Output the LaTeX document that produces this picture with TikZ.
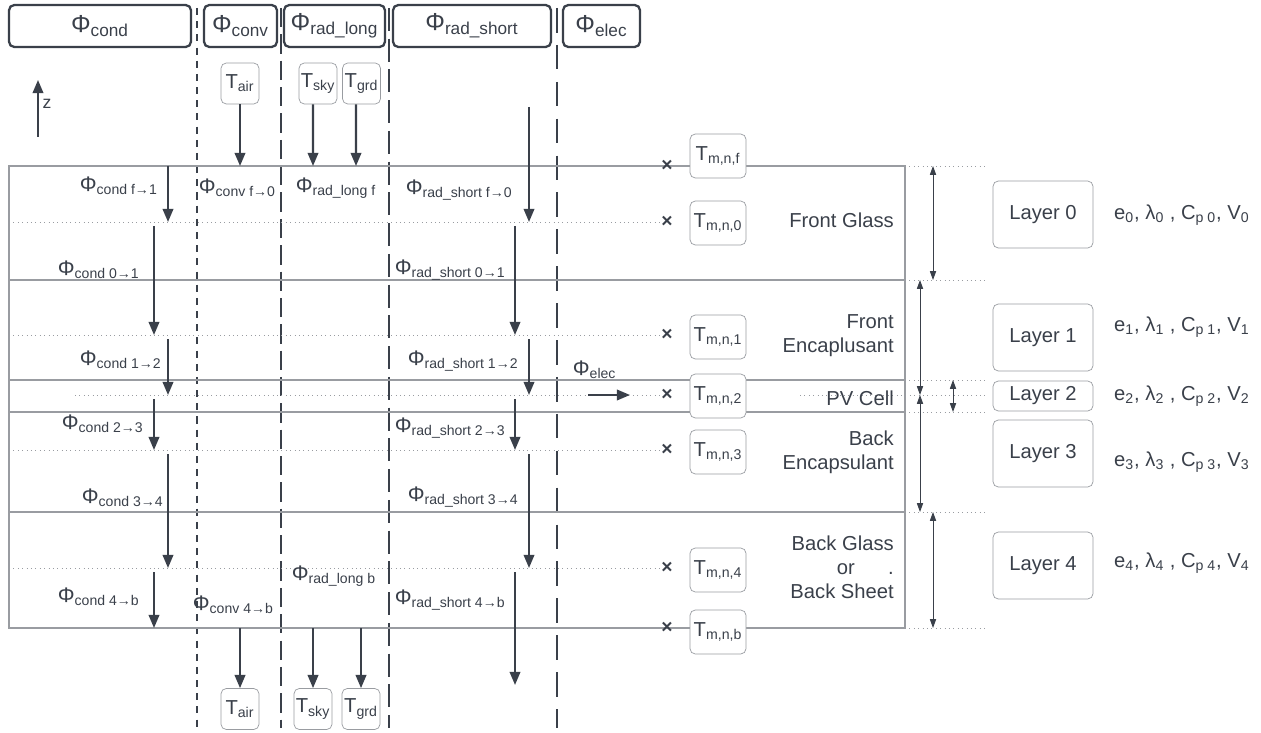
\documentclass[tikz,border=0pt]{standalone}
\usepackage{fontspec}
\setmainfont{Liberation Sans}
\usetikzlibrary{arrows.meta,positioning}

\definecolor{ink}{HTML}{3A404A}
\definecolor{rule}{HTML}{999CA1}
\newcommand{\flx}[1]{Φ\textsubscript{#1}}
\newcommand{\tmp}[1]{T\textsubscript{#1}}

\begin{document}
\begin{tikzpicture}[x=0.02cm, y=-0.02cm,
    every node/.style={text=ink, font=\fontsize{11.5}{13.6}\selectfont},
    head/.style={draw=ink, line width=1.3pt, rounded corners=3pt, minimum height=0.84cm, font=\fontsize{14}{16}\selectfont},
    lbl/.style={anchor=west, inner sep=2pt, font=\fontsize{12}{14}\selectfont},
    tbox/.style={draw=rule, rounded corners=3pt, fill=white, minimum width=1.12cm, minimum height=0.88cm, inner sep=1pt},
    tend/.style={tbox, minimum width=0.76cm, minimum height=0.82cm},
    layerbox/.style={draw=rule, rounded corners=3pt, minimum width=2cm, minimum height=1.34cm},
    flow/.style={draw=ink, line width=1.2pt, -{Triangle[length=7.5pt,width=6pt]}},
    dim/.style={draw=ink, line width=0.5pt, {Triangle[length=5pt,width=3.5pt]}-{Triangle[length=5pt,width=3.5pt]}},
    colsep/.style={draw=ink, line width=1.2pt, dash pattern=#1},
    layerline/.style={draw=rule, line width=0.6pt},
    midline/.style={draw=rule, dotted, line width=0.5pt},
    cross/.style={font=\bfseries\fontsize{11}{11}\selectfont, inner sep=0pt}]
  \useasboundingbox (0,0) rectangle (1261,733);

  % column headers
  \node[head, minimum width=3.64cm] (hcond) at (100,26) {\flx{cond}};
  \node[head, minimum width=1.46cm] (hconv) at (240.5,26) {\flx{conv}};
  \node[head, minimum width=2.02cm] (hlong) at (334.5,26) {\flx{rad\_long}};
  \node[head, minimum width=3.16cm] (hshort) at (472,26) {\flx{rad\_short}};
  \node[head, minimum width=1.54cm] (helec) at (601.5,26) {\flx{elec}};

  \draw[colsep={on 4pt off 3.5pt}] (197,8) -- (197,728);
  \draw[colsep={on 11pt off 4pt}] (281,8) -- (281,728);
  \draw[colsep={on 13pt off 4.5pt}] (389,8) -- (389,728);
  \draw[colsep={on 14pt off 7pt}] (557,8) -- (557,728);

  % module layers
  \draw[layerline] (9,166) rectangle (905,628);
  \foreach \y in {280,380,412,512}
    \draw[layerline] (9,\y) -- (905,\y);
  \foreach \y in {166,280,380,412,512,628}
    \draw[midline] (905,\y) -- (985,\y);
  \draw[midline] (800,395) -- (985,395);

  \foreach \n/\y/\c in {f/166/156,0/222/223,1/335/337,2/395/396,3/450/452,4/568/570,b/628/632}{
    \node[cross] (x\n) at (667,\y) {×};
    \node[tbox] (t\n) at (718,\c) {\tmp{m,n,\n}};
  }
  \foreach \n/\y in {0/222,1/335,3/450,4/568}
    \draw[midline] (9,\y) -- (x\n);
  \draw[midline] (75,395) -- (x2);

  \node[anchor=east, align=right] (front) at (900,220) {Front Glass};
  \node[anchor=east, align=right] (fenc) at (900,336) {Front\\Encaplusant};
  \node[anchor=east, align=right] (pv) at (900,398) {PV Cell};
  \node[anchor=east, align=right] (benc) at (900,452) {Back\\Encapsulant};
  \node[anchor=east, align=right] (back) at (900,567) {Back Glass\\or\hspace{19pt}.\\Back Sheet};

  % thicknesses
  \draw[dim] (933,166) -- (933,280);
  \draw[dim] (920,280) -- (920,395);
  \draw[dim] (920,395) -- (920,512);
  \draw[dim] (953,380) -- (953,412);
  \draw[dim] (933,512) -- (933,628);

  \node[layerbox] (lay0) at (1043,214.5) {Layer 0};
  \node[layerbox] (lay1) at (1043,337.5) {Layer 1};
  \node[layerbox, minimum height=0.6cm, inner sep=0pt] (lay2) at (1043,396) {Layer 2};
  \node[layerbox] (lay3) at (1043,453.5) {Layer 3};
  \node[layerbox] (lay4) at (1043,565.5) {Layer 4};
  \foreach \i/\y in {0/215,1/327,2/396,3/462,4/563}
    \node[anchor=west] (prop\i) at (1108,\y) {e\textsubscript{\i}, λ\textsubscript{\i} , C\textsubscript{p \i}, V\textsubscript{\i}};

  % fluxes
  \foreach \xa/\ya/\yb in {168/166/222, 154/226/335, 168/339/395, 154/399/450, 168/454/568, 154/572/628,
                           529/107/222, 515/226/335, 529/339/395, 515/399/450, 529/454/568, 515/572/685}
    \draw[flow] (\xa,\ya) -- (\xa,\yb);

  \node[lbl] (fc0) at (76,186) {\flx{cond f→1}};
  \node[lbl] (fc1) at (54,270) {\flx{cond 0→1}};
  \node[lbl] (fc2) at (76,360) {\flx{cond 1→2}};
  \node[lbl] (fc3) at (58,424) {\flx{cond 2→3}};
  \node[lbl] (fc4) at (78,498) {\flx{cond 3→4}};
  \node[lbl] (fc5) at (54,597) {\flx{cond 4→b}};
  \node[lbl] (fv0) at (195,188) {\flx{conv f→0}};
  \node[lbl] (fv1) at (189,605) {\flx{conv 4→b}};
  \node[lbl] (fl0) at (292,188) {\flx{rad\_long f}};
  \node[lbl] (fl1) at (288,576) {\flx{rad\_long b}};
  \node[lbl] (fs0) at (402,190) {\flx{rad\_short f→0}};
  \node[lbl] (fs1) at (391,270) {\flx{rad\_short 0→1}};
  \node[lbl] (fs2) at (404,361) {\flx{rad\_short 1→2}};
  \node[lbl] (fs3) at (391,428) {\flx{rad\_short 2→3}};
  \node[lbl] (fs4) at (404,497) {\flx{rad\_short 3→4}};
  \node[lbl] (fs5) at (391,600) {\flx{rad\_short 4→b}};

  \node[lbl] (lelec) at (569,370) {\flx{elec}};
  \draw[flow] (588,395) -- (630,395);

  % surroundings
  \node[tend] (airtop) at (240,83.5) {\tmp{air}};
  \node[tend] (skytop) at (318,83.5) {\tmp{sky}};
  \node[tend] (grdtop) at (361.5,83.5) {\tmp{grd}};
  \node[tend] (airbot) at (240,709) {\tmp{air}};
  \node[tend] (skybot) at (313,709) {\tmp{sky}};
  \node[tend] (grdbot) at (361,709) {\tmp{grd}};

  \draw[flow] (airtop.south) -- (240,166);
  \draw[flow] ([xshift=-0.1cm]skytop.south) -- (313,166);
  \draw[flow] ([xshift=-0.11cm]grdtop.south) -- (356,166);
  \draw[flow] (240,628) -- (airbot.north);
  \draw[flow] (313,628) -- (skybot.north);
  \draw[flow] (361,628) -- (grdbot.north);

  \draw[flow] (38,137) -- (38,80);
  \node[font=\fontsize{10}{12}\selectfont] (zlab) at (47,104) {z};
\end{tikzpicture}
\end{document}
